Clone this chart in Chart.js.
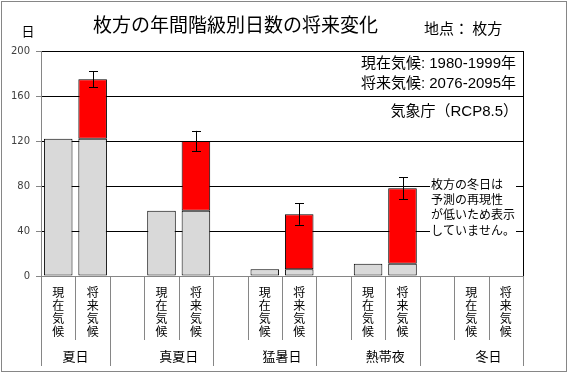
<!DOCTYPE html>
<html>
<head>
<meta charset="utf-8">
<script src="https://cdn.jsdelivr.net/npm/chart.js@4/dist/chart.umd.min.js"></script>
<style>
    body { margin: 0; background: #fff; }
    canvas { display: block; }
</style>
</head>
<body>
<canvas id="grafico" width="569" height="373"></canvas>
<script>
// 階級 (グループ)
const grupos = ['夏日', '真夏日', '猛暑日', '熱帯夜', '冬日'];
const rotulosBarra = ['現在気候', '将来気候'];
// 日数
const valoresAtual = [122, 58, 6, 11, null];
const valoresFuturo = [175, 120, 55, 78, null];
const erroFuturo = [7, 9, 9.5, 10, null];
const ticksY = [0, 40, 80, 120, 160, 200];

const fonteJP = '"Noto Sans CJK JP", sans-serif';
const corCinzaLinha = '#868686';

//monta as colunas (atual, futuro, vazio, ...)
const labels = [];
const dadosCinza = [];
const dadosVermelho = [];
grupos.forEach((g, i) => {
    if (i > 0) {
        labels.push('');
        dadosCinza.push(null);
        dadosVermelho.push(null);
    }
    labels.push(rotulosBarra[0]);
    dadosCinza.push(valoresAtual[i]);
    dadosVermelho.push(null);
    labels.push(rotulosBarra[1]);
    dadosCinza.push(valoresAtual[i]);
    dadosVermelho.push(valoresFuturo[i] != null ? valoresFuturo[i] - valoresAtual[i] : null);
});

const Desenho = {
    id: 'desenho',
    beforeDraw: (chart) => {
        const ctx = chart.ctx;
        ctx.save();
        ctx.fillStyle = '#fff';
        ctx.fillRect(0, 0, chart.width, chart.height);
        ctx.restore();
    },
    afterDraw: (chart) => {
        const ctx = chart.ctx;
        const area = chart.chartArea;
        const x = chart.scales.x;
        const y = chart.scales.y;
        const larguraSlot = (area.right - area.left) / labels.length;
        ctx.save();

        // borda direita da area
        ctx.strokeStyle = '#000';
        ctx.lineWidth = 1;
        ctx.beginPath();
        ctx.moveTo(Math.floor(area.right) + 0.5, area.top);
        ctx.lineTo(Math.floor(area.right) + 0.5, area.bottom);
        ctx.stroke();

        // barras de erro
        grupos.forEach((g, i) => {
            if (valoresFuturo[i] == null || erroFuturo[i] == null) return;
            const px = Math.round(x.getPixelForValue(i * 3 + 1)) + 0.5;
            const yTop = y.getPixelForValue(valoresFuturo[i] + erroFuturo[i]);
            const yBot = y.getPixelForValue(valoresFuturo[i] - erroFuturo[i]);
            ctx.beginPath();
            ctx.moveTo(px, yTop);
            ctx.lineTo(px, yBot);
            ctx.moveTo(px - 4.5, Math.round(yTop) + 0.5);
            ctx.lineTo(px + 4.5, Math.round(yTop) + 0.5);
            ctx.moveTo(px - 4.5, Math.round(yBot) + 0.5);
            ctx.lineTo(px + 4.5, Math.round(yBot) + 0.5);
            ctx.stroke();
        });

        // linhas separadoras do eixo x
        ctx.strokeStyle = corCinzaLinha;
        for (let k = 0; k <= labels.length; k++) {
            const sx = Math.round(area.left + k * larguraSlot) + 0.5;
            const longa = k === 0 || k === labels.length || (k - 2) % 3 === 0;
            ctx.beginPath();
            ctx.moveTo(sx, area.bottom);
            ctx.lineTo(sx, longa ? 366 : 340);
            ctx.stroke();
        }

        // rotulos verticais
        ctx.fillStyle = '#000';
        ctx.textAlign = 'center';
        ctx.textBaseline = 'middle';
        ctx.font = '12px ' + fonteJP;
        labels.forEach((lab, k) => {
            const cx = x.getPixelForValue(k);
            [...lab].forEach((c, j) => ctx.fillText(c, cx, 292 + j * 13));
        });

        // rotulos dos grupos
        ctx.font = '13px ' + fonteJP;
        grupos.forEach((g, i) => {
            const cx = (x.getPixelForValue(i * 3) + x.getPixelForValue(i * 3 + 1)) / 2;
            ctx.fillText(g, cx, 356);
        });

        // titulo e textos
        ctx.font = '19px ' + fonteJP;
        ctx.fillText('枚方の年間階級別日数の将来変化', 235.5, 25);
        ctx.font = '13px ' + fonteJP;
        ctx.fillText('日', 28, 31);
        ctx.textAlign = 'left';
        ctx.font = '15px ' + fonteJP;
        ctx.fillText('地点： 枚方', 424, 28);

        ctx.textAlign = 'right';
        ctx.font = '15px "Liberation Sans", ' + fonteJP;
        ctx.fillText('現在気候: 1980-1999年', 516, 64);
        ctx.fillText('将来気候: 2076-2095年', 516, 84);
        ctx.fillText('気象庁（RCP8.5）', 518, 112);

        // nota do 冬日
        ctx.fillStyle = '#fff';
        ctx.fillRect(430, 176, 86, 62);
        ctx.fillStyle = '#000';
        ctx.textAlign = 'left';
        ctx.font = '12px ' + fonteJP;
        ['枚方の冬日は', '予測の再現性', 'が低いため表示', 'していません。'].forEach((l, j) => {
            ctx.fillText(l, 431, 184 + j * 15.4);
        });

        // moldura externa
        ctx.strokeStyle = corCinzaLinha;
        ctx.strokeRect(1.5, 1.5, 565, 370);
        ctx.restore();
    }
};

const config = {
    type: 'bar',
    data: {
        labels: labels,
        datasets: [{
            label: '現在',
            data: dadosCinza,
            backgroundColor: '#D9D9D9',
            borderColor: '#000',
            borderWidth: 1,
            borderSkipped: false,
            categoryPercentage: 1,
            barPercentage: 0.83
        }, {
            label: '増加',
            data: dadosVermelho,
            backgroundColor: '#FF0000',
            borderColor: '#000',
            borderWidth: 1,
            borderSkipped: false,
            categoryPercentage: 1,
            barPercentage: 0.83
        }]
    },
    options: {
        responsive: false,
        animation: false,
        layout: { padding: { left: 0, top: 51, right: 46, bottom: 97 } },
        plugins: {
            legend: { display: false },
            tooltip: { enabled: false }
        },
        scales: {
            x: {
                stacked: true,
                display: false
            },
            y: {
                stacked: true,
                min: 0,
                max: 200,
                afterBuildTicks: (s) => { s.ticks = ticksY.map(v => ({ value: v })); },
                afterFit: (s) => { s.width = 41; },
                grid: {
                    color: (c) => c.tick && c.tick.value === 0 ? corCinzaLinha : '#000',
                    tickColor: corCinzaLinha,
                    tickLength: 5,
                    lineWidth: 1
                },
                border: { color: corCinzaLinha },
                ticks: {
                    padding: 6,
                    color: '#404040',
                    font: { family: '"DejaVu Sans", sans-serif', size: 10 }
                }
            }
        }
    },
    plugins: [Desenho]
};

new Chart(document.getElementById('grafico'), config);
</script>
</body>
</html>
